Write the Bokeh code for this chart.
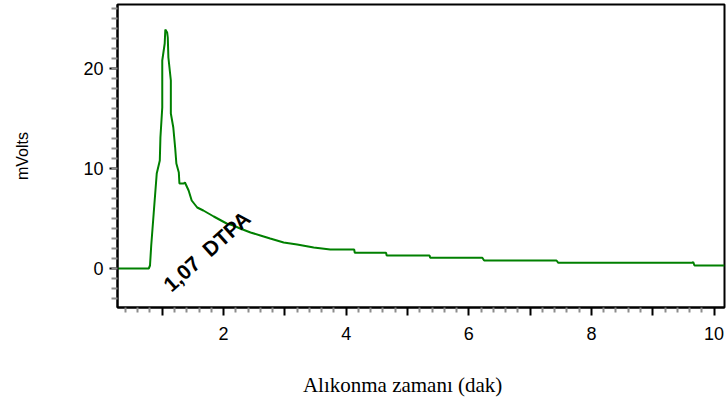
from bokeh.plotting import figure
from bokeh.models import Range1d, FixedTicker, Label
from bokeh.embed import file_html
from bokeh.resources import INLINE

# Retention time (min) and detector signal (mV)
time_min = [0.27, 0.78, 0.80, 0.82, 0.86, 0.91, 0.96, 0.97, 1.00, 1.00, 1.04, 1.05,
            1.08, 1.09, 1.10, 1.14, 1.14, 1.18, 1.21, 1.23, 1.27, 1.28, 1.35, 1.37,
            1.43, 1.48, 1.57, 1.67, 1.84, 2.05, 2.16, 2.27, 2.44, 2.60, 2.76, 2.98,
            3.20, 3.47, 3.74, 4.13, 4.14, 4.65, 4.66, 5.36, 5.37, 6.22, 6.25, 7.43,
            7.46, 9.64, 9.66, 9.68, 10.17]
mvolts = [0.0, 0.0, 0.3, 2.3, 5.5, 9.5, 10.8, 13.1, 16.1, 20.8, 22.5, 23.9,
          23.6, 23.1, 21.1, 18.8, 15.5, 14.1, 12.1, 10.5, 9.6, 8.5, 8.5, 8.6,
          7.8, 6.8, 6.1, 5.8, 5.2, 4.5, 4.3, 4.0, 3.6, 3.3, 3.0, 2.6,
          2.4, 2.1, 1.9, 1.9, 1.57, 1.57, 1.3, 1.3, 1.07, 1.07, 0.8, 0.8,
          0.57, 0.57, 0.65, 0.3, 0.3]

x_major = [2, 4, 6, 8, 10]
x_mid = [1, 3, 5, 7, 9]
y_major = [0, 10, 20]
peak_label = "1,07\u00a0 DTPA"
peak_x = 1.07
peak_y = -1.9
x_title = "Alıkonma zamanı (dak)"
y_title = "mVolts"

p = figure(width=728, height=400, output_backend="svg", toolbar_location=None,
           x_range=Range1d(0.27, 10.17), y_range=Range1d(-3.9, 26.4),
           min_border_left=117, min_border_right=4, min_border_top=4,
           min_border_bottom=93)
p.background_fill_color = "white"
p.border_fill_color = "white"
p.outline_line_color = "black"
p.outline_line_width = 2
p.grid.visible = False

p.line(time_min, mvolts, line_color="#008000", line_width=2)

p.add_layout(Label(x=peak_x, y=peak_y, text=peak_label, angle=42, angle_units="deg",
                   text_font="Liberation Sans", text_font_style="bold",
                   text_font_size="21px", text_color="black",
                   text_align="left", text_baseline="alphabetic"))

xa = p.xaxis[0]
ticks_all = sorted(x_major + x_mid)
minor = [round(0.2 * i, 2) for i in range(1, 51) if abs(0.2 * i - round(0.2 * i)) > 1e-6]
xa.ticker = FixedTicker(ticks=ticks_all, minor_ticks=minor)
xa.major_label_overrides = {t: "" for t in x_mid}
xa.major_label_overrides.update({t: str(t) for t in x_major})
xa.axis_line_color = "black"
xa.axis_line_width = 2
xa.major_tick_line_color = "black"
xa.major_tick_line_width = 2
xa.major_tick_in = 0
xa.major_tick_out = 8
xa.minor_tick_line_color = "#8c8c8c"
xa.minor_tick_line_width = 2
xa.minor_tick_in = 0
xa.minor_tick_out = 5
xa.major_label_text_font = "Liberation Sans"
xa.major_label_text_font_size = "18px"
xa.major_label_text_color = "black"
xa.major_label_standoff = 11
# trailing no-break spaces shift the centred title a little to the left, as in the original
xa.axis_label = x_title + "\u00a0" * 7
xa.axis_label_text_font = "Liberation Serif"
xa.axis_label_text_font_style = "normal"
xa.axis_label_text_font_size = "21px"
xa.axis_label_text_color = "black"
xa.axis_label_standoff = 30

ya = p.yaxis[0]
ya.ticker = FixedTicker(ticks=y_major, minor_ticks=list(range(-3, 27)))
ya.axis_line_color = "black"
ya.axis_line_width = 2
ya.major_tick_line_color = "black"
ya.major_tick_line_width = 2
ya.major_tick_in = 0
ya.major_tick_out = 8
ya.minor_tick_line_color = "#8c8c8c"
ya.minor_tick_line_width = 2
ya.minor_tick_in = 0
ya.minor_tick_out = 6
ya.major_label_text_font = "Liberation Sans"
ya.major_label_text_font_size = "18px"
ya.major_label_text_color = "black"
ya.major_label_standoff = 6
ya.major_label_orientation = "horizontal"
ya.axis_label = y_title
ya.axis_label_text_font = "Liberation Sans"
ya.axis_label_text_font_style = "normal"
ya.axis_label_text_font_size = "16px"
ya.axis_label_text_color = "black"
ya.axis_label_standoff = 49

open("out.html", "w").write(file_html(p, INLINE))
